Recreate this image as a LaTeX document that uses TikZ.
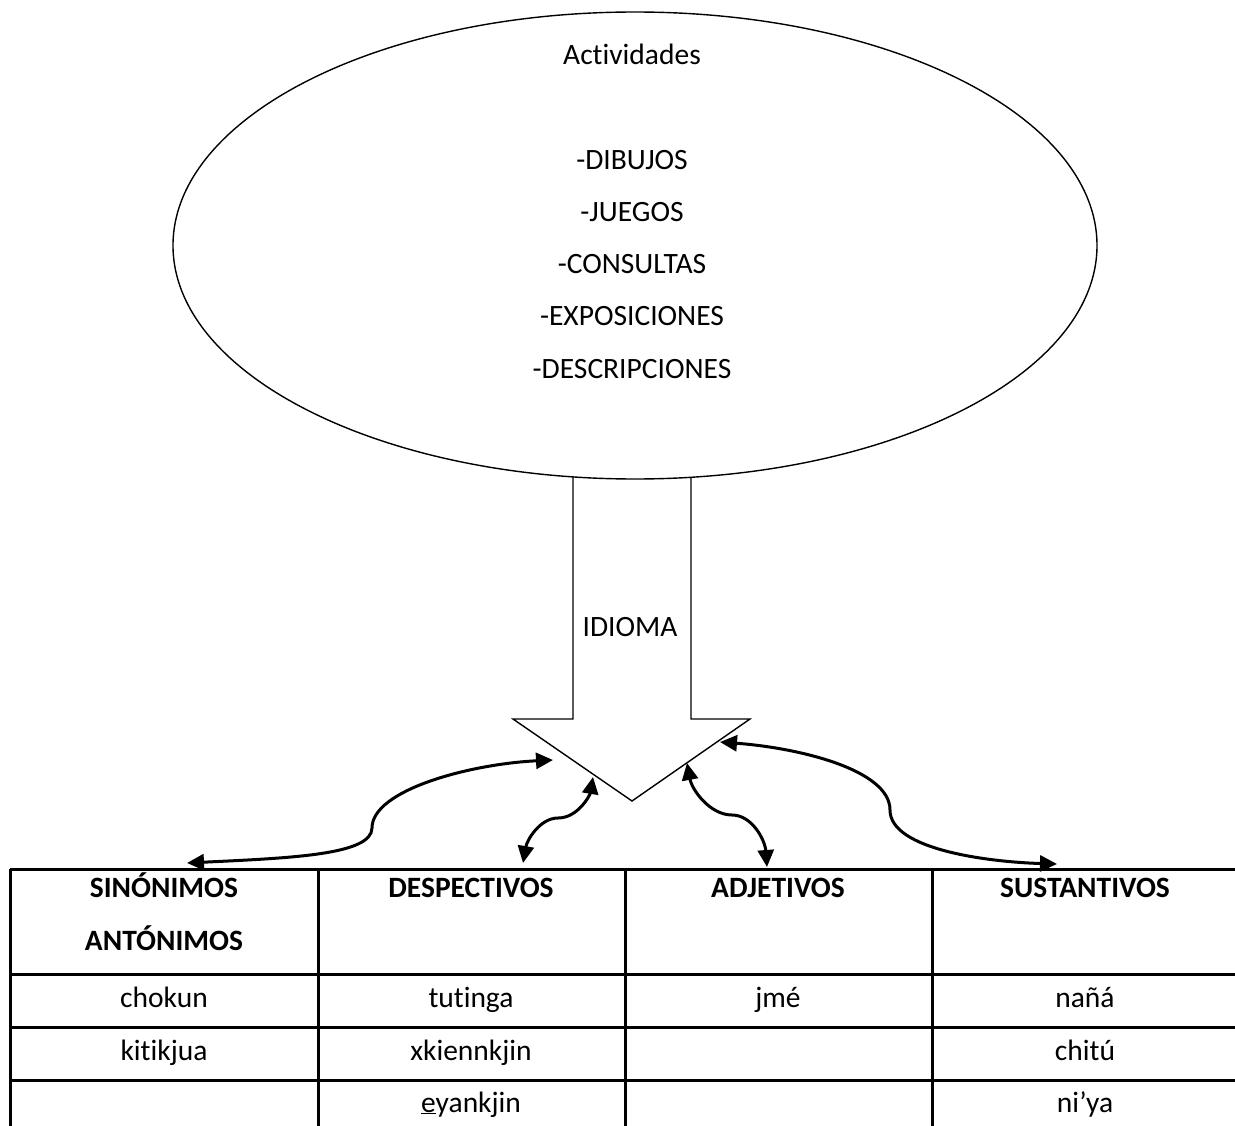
\documentclass[tikz,border=0pt]{standalone}
\usepackage{fontspec}
\setmainfont{Carlito}[RawFeature={-liga}]
\usetikzlibrary{arrows.meta,shapes.geometric}
\begin{document}
\begin{tikzpicture}[x=1pt,y=-1pt,
  txt/.style={inner sep=0pt,anchor=base,font=\fontsize{29.5}{34}\selectfont},
  hdr/.style={txt,font=\fontsize{29.5}{34}\selectfont\bfseries},
  outline/.style={draw=black,line width=1.4pt},
  grid/.style={draw=black,line width=3pt},
  link/.style={draw=black,line width=3pt,{Triangle[length=17pt,width=16pt]}-{Triangle[length=17pt,width=16pt]}}]
\useasboundingbox (0,0) rectangle (1235,1126);
\fill[white] (0,0) rectangle (1235,1126);

% ellipse
\node[ellipse,outline,minimum width=924pt,minimum height=467pt,inner sep=0pt] (act) at (635,245.5) {};
\node[txt] (t0) at (632,65) {Actividades};
\node[txt] (t1) at (632,170) {-DIBUJOS};
\node[txt] (t2) at (632,222) {-JUEGOS};
\node[txt] (t3) at (632,274) {-CONSULTAS};
\node[txt] (t4) at (632,326) {-EXPOSICIONES};
\node[txt] (t5) at (632,378) {-DESCRIPCIONES};

% big arrow
\draw[outline,line join=miter] (573,477) -- (573,719) -- (513,719) -- (632,801) -- (750,719) -- (691,719) -- (691,477);
\node[txt] (idioma) at (630,636) {IDIOMA};

% connector end points
\coordinate (L1) at (187,863);
\coordinate (L2) at (553,760);
\coordinate (D1) at (523,863);
\coordinate (D2) at (593,777);
\coordinate (A1) at (687,763);
\coordinate (A2) at (767,867);
\coordinate (R1) at (720,742);
\coordinate (R2) at (1057,864);

\draw[link] (L1) .. controls (290,858) and (372,855) .. (372,828) .. controls (372,790) and (470,764) .. (L2);
\draw[link] (D1) .. controls (527,840) and (540,818) .. (558,818) .. controls (578,818) and (590,795) .. (D2);
\draw[link] (A1) .. controls (692,790) and (710,815) .. (732,815) .. controls (752,815) and (765,840) .. (A2);
\draw[link] (R1) .. controls (800,748) and (890,770) .. (890,810) .. controls (890,850) and (990,862) .. (R2);

% table
\draw[grid] (10,869) -- (1235,869);
\draw[grid] (10,974) -- (1235,974);
\draw[grid] (10,1027) -- (1235,1027);
\draw[grid] (10,1080) -- (1235,1080);
\foreach \xx in {10,318,625,932} \draw[grid] (\xx,869) -- (\xx,1126);

\node[hdr] (h1a) at (164,897) {SINÓNIMOS};
\node[hdr] (h1b) at (164,950) {ANTÓNIMOS};
\node[hdr] (h2) at (471,897) {DESPECTIVOS};
\node[hdr] (h3) at (778,897) {ADJETIVOS};
\node[hdr] (h4) at (1085,897) {SUSTANTIVOS};

\node[txt] (c11) at (164,1007) {chokun};
\node[txt] (c21) at (164,1060) {kitikjua};
\node[txt] (c12) at (471,1007) {tutinga};
\node[txt] (c22) at (471,1060) {xkiennkjin};
\node[txt] (c32) at (471,1112) {\underline{e}yankjin};
\node[txt] (c13) at (778,1007) {jmé};
\node[txt] (c14) at (1085,1007) {nañá};
\node[txt] (c24) at (1085,1060) {chitú};
\node[txt] (c34) at (1085,1112) {ni’ya};
\end{tikzpicture}
\end{document}
